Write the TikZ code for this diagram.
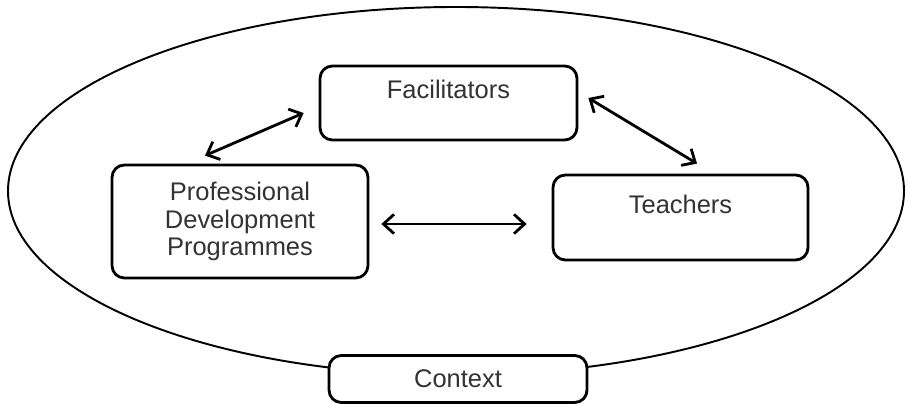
\documentclass[tikz,border=0pt]{standalone}
\usepackage{fontspec}
\setmainfont{Liberation Sans}
\usetikzlibrary{arrows.meta, calc}

\begin{document}
\begin{tikzpicture}[
    x=0.02cm, y=-0.02cm,
    box/.style={draw, line width=1.6pt, rounded corners=7pt, fill=white,
                align=center, text=black!80, font=\fontsize{14.5}{15.6}\selectfont},
    link/.style={{Straight Barb[length=6pt,width=11pt]}-{Straight Barb[length=6pt,width=11pt]},
                 line width=1.6pt}
  ]
    \useasboundingbox (0,0) rectangle (908,404);
    % surrounding context
    \draw[line width=1.1pt] (456,191) ellipse [x radius=448, y radius=184];

    \node[box, minimum width=5.14cm, minimum height=1.48cm] (fac) at (448.5,103)
      {Facilitators\\~};
    \node[box, minimum width=5.12cm, minimum height=2.26cm] (pdp) at (240,221.5)
      {Professional\\Development\\Programmes};
    \node[box, minimum width=5.1cm, minimum height=1.7cm] (teach) at (680.5,217.5)
      {Teachers\\~};
    \node[box, minimum width=5.16cm, minimum height=0.94cm] (ctx) at (458,379)
      {Context};

    \draw[link] ([shift={(-35,-8)}]pdp.north) -- ([shift={(-15,10)}]fac.west);
    \draw[link] ([shift={(10,-5)}]fac.east) -- ([shift={(16.5,-10)}]teach.north);
    \draw[link] ([shift={(12,2.5)}]pdp.east) -- ([shift={(-25,6.5)}]teach.west);
  \end{tikzpicture}
\end{document}
